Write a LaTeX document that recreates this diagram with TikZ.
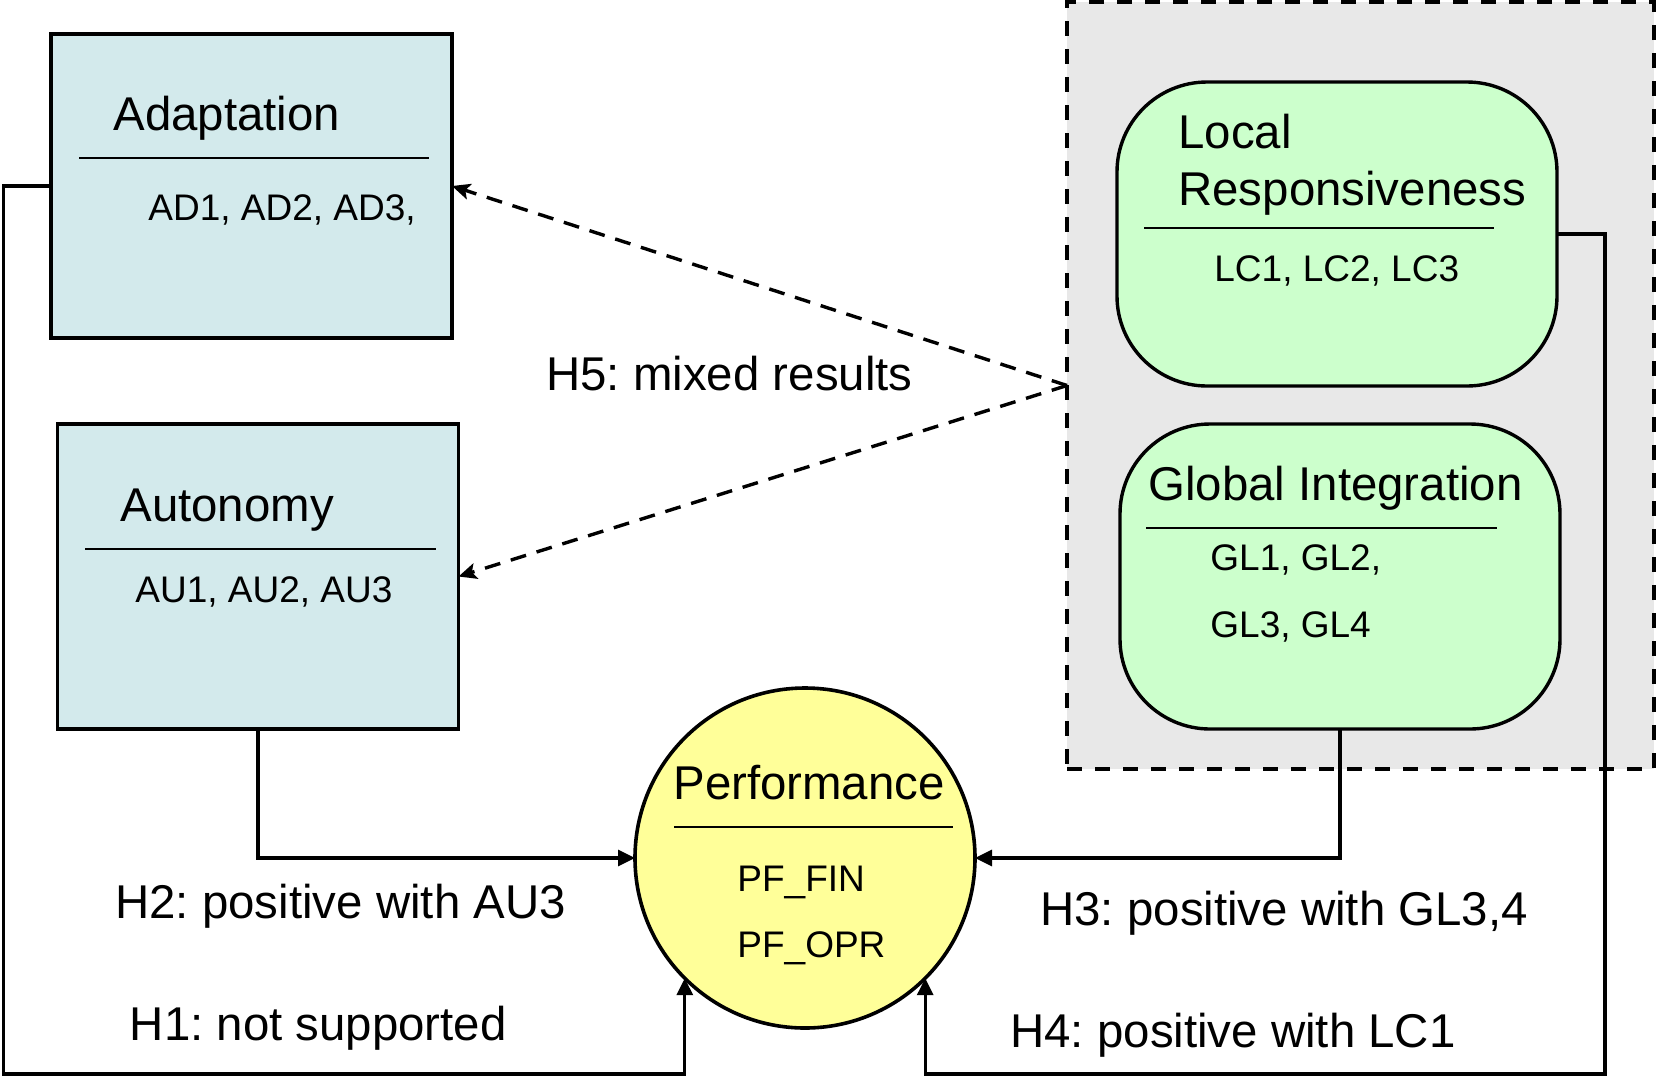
\documentclass[tikz,border=0pt]{standalone}
\usepackage{fontspec}
\setmainfont{Liberation Sans}
\usetikzlibrary{arrows.meta}

\definecolor{boxblue}{HTML}{D3EAEC}
\definecolor{boxgreen}{HTML}{CCFFCC}
\definecolor{perfyellow}{HTML}{FFFF99}
\definecolor{groupgray}{HTML}{E8E8E8}

\begin{document}
\frenchspacing
\begin{tikzpicture}[x=0.5pt,y=-0.5pt,
  bigtxt/.style={font=\fontsize{23.7}{28}\selectfont, anchor=base west, inner sep=0pt},
  smalltxt/.style={font=\fontsize{18.5}{22}\selectfont, anchor=base west, inner sep=0pt},
  sqbox/.style={draw, line width=1.8pt, fill=boxblue, minimum width=200.5pt, minimum height=152pt, inner sep=0pt, outer sep=0pt},
  rbox/.style={draw, line width=1.7pt, fill=boxgreen, rounded corners=45pt, minimum width=220pt, minimum height=152pt, inner sep=0pt, outer sep=0pt},
  perfcircle/.style={circle, draw, line width=1.8pt, fill=perfyellow, minimum size=170pt, inner sep=0pt, outer sep=0pt},
  groupbox/.style={draw, dash pattern=on 7.5pt off 6.5pt, line width=2pt, fill=groupgray, minimum width=293.5pt, minimum height=383.5pt, inner sep=0pt, outer sep=0pt},
  divider/.style={line width=1pt},
  conn/.style={line width=1.6pt, -{Triangle[length=8.5pt,width=8pt]}},
  mixed/.style={line width=1.7pt, dash pattern=on 8pt off 5.5pt, -{Stealth[length=9pt,width=8pt,inset=2pt]}},
]
\useasboundingbox (0,0) rectangle (1656,1078);

% grey group holding the two strategy constructs
\node[groupbox] (grp) at (1360.5,385.5) {};

% construct boxes
\node[sqbox] (ad) at (251.5,186) {};
\node[sqbox, minimum height=152.5pt] (au) at (258,576.5) {};
\node[rbox] (lr) at (1337,234) {};
\node[rbox, minimum height=152.5pt] (gi) at (1340,576.5) {};
\node[perfcircle] (perf) at (805,858) {};

% Adaptation
\node[bigtxt] (adt) at (113,130) {Adaptation};
\draw[divider] (79,158) -- (429,158);
\node[smalltxt] (adi) at (148,220) {AD1, AD2, AD3,};

% Autonomy
\node[bigtxt] (aut) at (120,521) {Autonomy};
\draw[divider] (85,549) -- (436,549);
\node[smalltxt] (aui) at (135,602) {AU1, AU2, AU3};

% Local Responsiveness
\node[bigtxt] (lrt1) at (1178,148) {Local};
\node[bigtxt] (lrt2) at (1178,205) {Responsiveness};
\draw[divider] (1144,228) -- (1494,228);
\node[smalltxt] (lri) at (1214,281) {LC1, LC2, LC3};

% Global Integration
\node[bigtxt] (git) at (1148,500) {Global Integration};
\draw[divider] (1146,528) -- (1497,528);
\node[smalltxt] (gi1) at (1210,570) {GL1, GL2,};
\node[smalltxt] (gi2) at (1210,637) {GL3, GL4};

% Performance
\node[bigtxt] (pft) at (673,799) {Performance};
\draw[divider] (674,827) -- (953,827);
\node[smalltxt] (pf1) at (737,891) {PF\_FIN};
\node[smalltxt] (pf2) at (737,957) {PF\_OPR};

% hypothesis paths
\coordinate (h1corner) at (3.5,1074);
\coordinate (h4corner) at (1605,1074);
\draw[conn] (ad.west) -| (h1corner) -| (perf.225);
\draw[conn] (au.south) |- (perf.west);
\draw[conn] (gi.south) |- (perf.east);
\draw[conn] (lr.east) -| (h4corner) -| (perf.315);
\draw[mixed] (grp.west) -- (ad.east);
\draw[mixed] (grp.west) -- (au.east);

% hypothesis labels
\node[bigtxt] (h5) at (546,390) {H5: mixed results};
\node[bigtxt] (h2) at (115,918) {H2: positive with AU3};
\node[bigtxt] (h1) at (129.5,1040) {H1: not supported};
\node[bigtxt] (h3) at (1040,925) {H3: positive with GL3,4};
\node[bigtxt] (h4) at (1010,1047) {H4: positive with LC1};
\end{tikzpicture}
\end{document}
